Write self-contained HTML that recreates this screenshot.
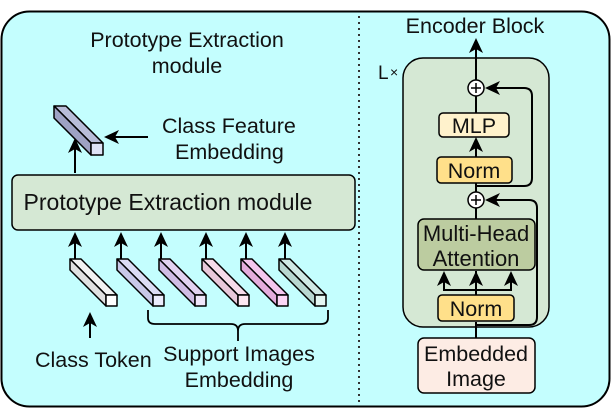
<!DOCTYPE html>
<html><head><style>
html,body{margin:0;padding:0;background:#fff;}
svg{display:block;}
text{font-family:"Liberation Sans",Arial,sans-serif;fill:#111;font-size:21.5px;}
</style></head><body>
<svg width="613" height="413" viewBox="0 0 613 413" xmlns="http://www.w3.org/2000/svg">
<defs>
<marker id="ah" markerWidth="16" markerHeight="16" refX="13" refY="8" orient="auto" markerUnits="userSpaceOnUse">
<path d="M0,1 L15,8 L0,15 L4,8 Z" fill="#000"/>
</marker>
</defs>
<rect x="1.5" y="11.5" width="608" height="395" rx="28" fill="#c4fefe" stroke="#000" stroke-width="2"/>
<line x1="359" y1="16" x2="359" y2="402" stroke="#333" stroke-width="2" stroke-dasharray="2,4"/>

<text x="187" y="47" text-anchor="middle">Prototype Extraction</text>
<text x="187" y="73" text-anchor="middle">module</text>

<g stroke="#000" stroke-width="1.5" stroke-linejoin="round">
<polygon points="91,143 103,143 66,106 54,106" fill="#b8bcd8"/>
<polygon points="91,143 91,155 54,118 54,106" fill="#9ea2c4"/>
<rect x="91" y="143" width="12" height="12" fill="#dfe3f6"/>
</g>
<line x1="148" y1="137" x2="106" y2="137" stroke="#000" stroke-width="2" marker-end="url(#ah)"/>
<line x1="75" y1="173" x2="75" y2="140" stroke="#000" stroke-width="2" marker-end="url(#ah)"/>
<text x="162" y="133">Class Feature</text>
<text x="175" y="159">Embedding</text>

<rect x="12" y="175" width="343" height="55" rx="6" fill="#d5e8d4" stroke="#000" stroke-width="1.5"/>
<text x="168" y="210" text-anchor="middle" style="font-size:23px">Prototype Extraction module</text>

<g stroke="#000" stroke-width="2" marker-end="url(#ah)">
<line x1="75" y1="262" x2="75" y2="234"/>
<line x1="121" y1="262" x2="121" y2="234"/>
<line x1="161" y1="262" x2="161" y2="234"/>
<line x1="206" y1="262" x2="206" y2="234"/>
<line x1="246" y1="262" x2="246" y2="234"/>
<line x1="285" y1="262" x2="285" y2="234"/>
</g>

<g stroke="#000" stroke-width="1.5" stroke-linejoin="round">
<polygon points="106,295 117,295 81,259 70,259" fill="#f2f2f2"/><polygon points="106,295 106,306 70,270 70,259" fill="#e0e0e0"/><rect x="106" y="295" width="11" height="11" fill="#fff"/>
<polygon points="153,295 164,295 128,259 117,259" fill="#dcdcf4"/><polygon points="153,295 153,306 117,270 117,259" fill="#c8c8e8"/><rect x="153" y="295" width="11" height="11" fill="#ececfc"/>
<polygon points="195,295 206,295 170,259 159,259" fill="#e2d2f0"/><polygon points="195,295 195,306 159,270 159,259" fill="#d0bce4"/><rect x="195" y="295" width="11" height="11" fill="#f0e6fa"/>
<polygon points="238,295 249,295 213,259 202,259" fill="#f6dcea"/><polygon points="238,295 238,306 202,270 202,259" fill="#e8c8da"/><rect x="238" y="295" width="11" height="11" fill="#fde8f2"/>
<polygon points="277,295 288,295 252,259 241,259" fill="#f4c6ee"/><polygon points="277,295 277,306 241,270 241,259" fill="#e4acdc"/><rect x="277" y="295" width="11" height="11" fill="#fcd6f6"/>
<polygon points="315,295 326,295 290,259 279,259" fill="#d0e8e4"/><polygon points="315,295 315,306 279,270 279,259" fill="#b8d6d0"/><rect x="315" y="295" width="11" height="11" fill="#e4f6f2"/>
</g>

<line x1="90" y1="338" x2="90" y2="314" stroke="#000" stroke-width="2" marker-end="url(#ah)"/>
<text x="35" y="367">Class Token</text>
<path d="M148,310 V318 Q148,324 155,324 H231 Q238,324 238,331 V341 M238,331 Q238,324 245,324 H321 Q328,324 328,318 V310" fill="none" stroke="#000" stroke-width="1.8"/>
<text x="239" y="361" text-anchor="middle">Support Images</text>
<text x="239" y="387" text-anchor="middle">Embedding</text>

<text x="475" y="33" text-anchor="middle">Encoder Block</text>
<text x="378" y="79" style="font-size:19px">L</text><text x="390" y="77" style="font-size:14px">×</text>
<rect x="403" y="58" width="146" height="269" rx="20" fill="#d5e8d4" stroke="#000" stroke-width="1.5"/>

<line x1="476" y1="338" x2="476" y2="322" stroke="#000" stroke-width="2"/>
<line x1="476" y1="295" x2="476" y2="271" stroke="#000" stroke-width="2"/>
<line x1="476" y1="219" x2="476" y2="208" stroke="#000" stroke-width="2"/>
<line x1="476" y1="192" x2="476" y2="183" stroke="#000" stroke-width="2"/>
<line x1="476" y1="157" x2="476" y2="139" stroke="#000" stroke-width="2" marker-end="url(#ah)"/>
<line x1="476" y1="113" x2="476" y2="96" stroke="#000" stroke-width="2"/>
<line x1="476" y1="80" x2="476" y2="40" stroke="#000" stroke-width="2" marker-end="url(#ah)"/>
<path d="M444,290 H511" stroke="#000" stroke-width="2" fill="none"/>
<g stroke="#000" stroke-width="2" marker-end="url(#ah)">
<line x1="444" y1="291" x2="444" y2="273"/>
<line x1="476" y1="291" x2="476" y2="273"/>
<line x1="511" y1="291" x2="511" y2="273"/>
</g>
<path d="M476,186 H524 Q532,186 532,178 V96 Q532,88 524,88 H487" fill="none" stroke="#000" stroke-width="2" marker-end="url(#ah)"/>
<path d="M476,325 H529 Q537,325 537,317 V208 Q537,200 529,200 H487" fill="none" stroke="#000" stroke-width="2" marker-end="url(#ah)"/>

<g stroke="#000" stroke-width="1.5">
<circle cx="476" cy="88" r="8" fill="#fff"/><path d="M471,88 H481 M476,83 V93"/>
<circle cx="476" cy="200" r="8" fill="#fff"/><path d="M471,200 H481 M476,195 V205"/>
</g>

<rect x="439" y="113" width="70" height="24" rx="4" fill="#fff2cc" stroke="#000" stroke-width="1.5"/>
<text x="474" y="133" text-anchor="middle">MLP</text>
<rect x="437" y="157" width="75" height="26" rx="4" fill="#ffe08a" stroke="#000" stroke-width="1.5"/>
<text x="474" y="178" text-anchor="middle">Norm</text>
<rect x="418" y="219" width="117" height="51" rx="6" fill="#bccca0" stroke="#000" stroke-width="1.5"/>
<text x="476" y="241" text-anchor="middle" style="font-size:22px">Multi-Head</text>
<text x="476" y="266" text-anchor="middle" style="font-size:22px">Attention</text>
<rect x="438" y="295" width="76" height="26" rx="4" fill="#ffe08a" stroke="#000" stroke-width="1.5"/>
<text x="476" y="316" text-anchor="middle">Norm</text>
<rect x="418" y="338" width="117" height="55" rx="6" fill="#fdece4" stroke="#000" stroke-width="1.5"/>
<text x="476" y="361" text-anchor="middle">Embedded</text>
<text x="476" y="386" text-anchor="middle">Image</text>
</svg>
</body></html>
